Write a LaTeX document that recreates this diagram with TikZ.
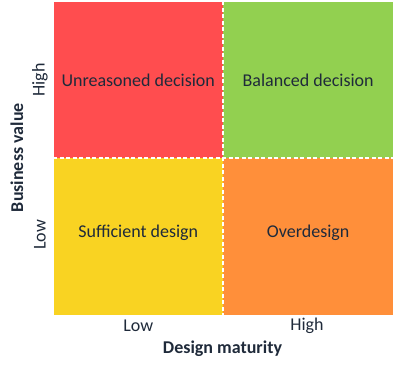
\documentclass[tikz,border=0pt]{standalone}
\usepackage{fontspec}
\setmainfont{Carlito}
\usepackage{xcolor}
\usepackage{tikz}
\usetikzlibrary{positioning, calc}

\definecolor{quadred}{HTML}{FF4D4F}
\definecolor{quadgreen}{HTML}{92D050}
\definecolor{quadyellow}{HTML}{F9D322}
\definecolor{quadorange}{HTML}{FF8F3A}
\definecolor{labeltext}{HTML}{1F2A3A}

\tikzset{
    quad/.style={rectangle, inner sep=0pt, minimum width=169.5pt, minimum height=156.3pt,
        font=\fontsize{18}{21}\selectfont, text=labeltext},
    quadtext/.style={font=\fontsize{18}{21}\selectfont, text=labeltext, inner sep=0pt},
    axislabel/.style={font=\fontsize{18}{21}\selectfont, text=labeltext, inner sep=0pt},
    axistitle/.style={font=\fontsize{18}{21}\selectfont\bfseries, text=labeltext, inner sep=0pt},
    divider/.style={white, line width=1.6pt, dash pattern=on 4pt off 2.5pt}
}

\begin{document}
\begin{tikzpicture}[x=1pt, y=1pt]
        \useasboundingbox (0,0) rectangle (400,369);
        % the four quadrants
        \node[quad, fill=quadred] (ul) at (138.25,289.15) {Unreasoned decision};
        \node[quad, fill=quadgreen, right=0pt of ul] (ur) {Balanced decision};
        \node[quad, fill=quadyellow, below=0pt of ul] (ll) {};
        \node[quad, fill=quadorange, below=0pt of ur] (lr) {};
        \node[quadtext] (lltext) at ([yshift=3.5pt]ll.center) {Sufficient design};
        \node[quadtext] (lrtext) at ([yshift=3.5pt]lr.center) {Overdesign};
        % dividers
        \draw[divider] (ul.north east) -- (ll.south east);
        \draw[divider] (ul.south west) -- (ur.south east);
        % axes
        \node[axislabel, rotate=90] (vhigh) at (40,289.15) {High};
        \node[axislabel, rotate=90] (vlow) at (40,134) {Low};
        \node[axistitle, rotate=90] (vtitle) at (17,211.3) {Business value};
        \node[axislabel] (hlow) at (138.25,43) {Low};
        \node[axislabel] (hhigh) at (307,43) {High};
        \node[axistitle] (htitle) at (222.5,20) {Design maturity};
    \end{tikzpicture}
\end{document}
